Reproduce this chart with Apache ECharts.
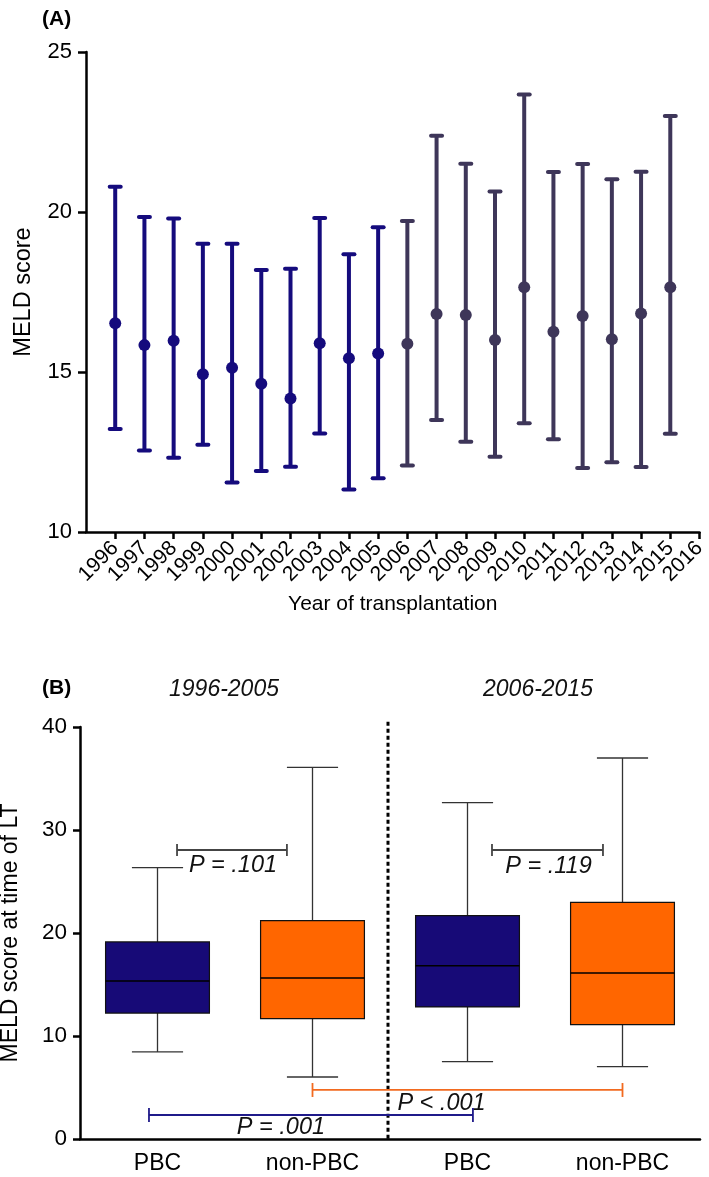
<!DOCTYPE html>
<html><head><meta charset="utf-8">
<script src="https://cdn.jsdelivr.net/npm/echarts@6/dist/echarts.min.js"></script>
<style>html,body{margin:0;padding:0;background:#fff}#c{width:709px;height:1177px}</style>
</head><body><div id="c"></div>
<script>
// ---------- Panel A data ----------
const years = ['1996','1997','1998','1999','2000','2001','2002','2003','2004','2005','2006','2007','2008','2009','2010','2011','2012','2013','2014','2015','2016'];
const meanVals = [16.52,15.84,15.98,14.93,15.13,14.63,14.17,15.90,15.43,15.58,15.88,16.81,16.78,16.00,17.65,16.26,16.75,16.02,16.83,17.65];
const lowVals  = [13.22,12.55,12.32,12.73,11.55,11.91,12.04,13.08,11.33,11.68,12.08,13.50,12.82,12.35,13.40,12.90,12.00,12.18,12.03,13.07];
const highVals = [20.79,19.84,19.80,19.01,19.01,18.19,18.23,19.81,18.68,19.52,19.72,22.38,21.51,20.64,23.67,21.25,21.50,21.02,21.26,23.00];
const yTicksA = [10, 15, 20, 25];

// ---------- Panel B data ----------
const groups = ['PBC','non-PBC','PBC','non-PBC'];
const boxMin    = [8.45, 6.02, 7.51, 7.02];
const boxQ1     = [12.23, 11.68, 12.82, 11.10];
const boxMedian = [15.34, 15.63, 16.83, 16.12];
const boxQ3     = [19.13, 21.20, 21.68, 22.98];
const boxMax    = [26.34, 36.08, 32.65, 36.99];
const periodLabels = ['1996-2005', '2006-2015'];
const pLabels = ['P = .101', 'P = .119', 'P < .001', 'P = .001'];
const pFrom   = [0, 2, 1, 0];
const pTo     = [1, 3, 3, 2];
const pLevel  = [28.06, 28.06, 4.76, 2.33];

// ---------- styling / layout (not data) ----------
const FONT = '"Liberation Sans", Arial, Helvetica, sans-serif';
const colEarly = '#150b7d', colLate = '#3e3659';
const colPBC = '#170a77', colNon = '#ff6600';
// bracket end adjustments (fraction of band) and label offsets (px)
const brStart = [0.126, 0.158, 0.0, -0.055];
const brEnd   = [-0.165, -0.126, 0.0, 0.035];
const brColor = ['#444', '#444', '#f26a1f', '#1f1a8a'];
const lblDx   = [1, 1, -26, -30];
const lblDy   = [15, 16, 13, 12];

const chart = echarts.init(document.getElementById('c'), null, {renderer: 'canvas'});

const errData = years.slice(0, meanVals.length).map((y, i) => [y, lowVals[i], meanVals[i], highVals[i]]);
const boxData = groups.map((g, i) => [i, boxMin[i], boxQ1[i], boxMedian[i], boxQ3[i], boxMax[i]]);
const cmpData = pLabels.map((l, i) => [pFrom[i], pTo[i], pLevel[i], i]);

const axisLineStyle = {color: '#000', width: 2.5};

const option = {
  animation: false,
  backgroundColor: '#fff',
  textStyle: {fontFamily: FONT},
  grid: [
    {left: 86, right: 9.5, top: 52, bottom: 645, outerBoundsMode: 'none'},
    {left: 80, right: 9, top: 727, bottom: 38, outerBoundsMode: 'none'}
  ],
  xAxis: [
    {
      type: 'category', gridIndex: 0, boundaryGap: false,
      data: [''].concat(years),
      axisLine: {lineStyle: axisLineStyle},
      axisTick: {length: 7, lineStyle: {color: '#000', width: 2.5}, interval: (i) => i > 0},
      axisLabel: {interval: 0, rotate: 45, fontSize: 21, color: '#000', margin: 13, fontFamily: FONT},
      name: 'Year of transplantation', nameLocation: 'middle', nameGap: 62,
      nameTextStyle: {fontSize: 21, color: '#000', fontFamily: FONT},
      splitLine: {show: false}
    },
    {
      type: 'category', gridIndex: 1, boundaryGap: true,
      data: groups,
      axisLine: {lineStyle: axisLineStyle},
      axisTick: {alignWithLabel: true, length: 7, lineStyle: {color: '#000', width: 2.5}},
      axisLabel: {fontSize: 23, color: '#000', margin: 13, fontFamily: FONT},
      splitLine: {show: false}
    }
  ],
  yAxis: [
    {
      type: 'value', gridIndex: 0, min: yTicksA[0], max: yTicksA[yTicksA.length - 1], interval: 5,
      axisLine: {show: true, lineStyle: axisLineStyle},
      axisTick: {show: true, length: 8, lineStyle: {color: '#000', width: 2.5}},
      axisLabel: {fontSize: 22, color: '#000', margin: 14, fontFamily: FONT},
      splitLine: {show: false},
      name: 'MELD score', nameLocation: 'middle', nameGap: 50,
      nameTextStyle: {fontSize: 23.5, color: '#000', fontFamily: FONT}
    },
    {
      type: 'value', gridIndex: 1, min: 0, max: 40, interval: 10,
      axisLine: {show: true, lineStyle: axisLineStyle},
      axisTick: {show: true, length: 7, lineStyle: {color: '#000', width: 2.5}},
      axisLabel: {fontSize: 22.5, color: '#000', margin: 13, fontFamily: FONT},
      splitLine: {show: false},
      name: 'MELD score at time of LT', nameLocation: 'middle', nameGap: 58,
      nameTextStyle: {fontSize: 23, color: '#000', fontFamily: FONT}
    }
  ],
  graphic: [
    {type: 'text', left: 42, top: 9, style: {text: '(A)', font: 'bold 21px ' + FONT, fill: '#000'}},
    {type: 'text', left: 42, top: 678, style: {text: '(B)', font: 'bold 21px ' + FONT, fill: '#000'}}
  ],
  series: [
    {
      type: 'custom', xAxisIndex: 0, yAxisIndex: 0, data: errData, clip: false,
      renderItem: function (params, api) {
        const idx = api.value(0);
        const year = parseInt(years[params.dataIndex], 10);
        const col = year < 2006 ? colEarly : colLate;
        const lo = api.coord([idx, api.value(1)]);
        const me = api.coord([idx, api.value(2)]);
        const hi = api.coord([idx, api.value(3)]);
        const cw = 5.5;
        const st = {stroke: col, lineWidth: 4, lineCap: 'round'};
        return {type: 'group', children: [
          {type: 'line', shape: {x1: lo[0], y1: lo[1], x2: hi[0], y2: hi[1]}, style: {stroke: col, lineWidth: 4}},
          {type: 'line', shape: {x1: hi[0] - cw, y1: hi[1], x2: hi[0] + cw, y2: hi[1]}, style: st},
          {type: 'line', shape: {x1: lo[0] - cw, y1: lo[1], x2: lo[0] + cw, y2: lo[1]}, style: st},
          {type: 'circle', shape: {cx: me[0], cy: me[1], r: 6}, style: {fill: col}}
        ]};
      }
    },
    {
      type: 'custom', xAxisIndex: 1, yAxisIndex: 1, data: boxData, clip: false,
      renderItem: function (params, api) {
        const idx = api.value(0);
        const band = api.size([1, 0])[0];
        const c = api.coord([idx, 0])[0];
        const y = (k) => api.coord([idx, api.value(k)])[1];
        const yMin = y(1), yQ1 = y(2), yMed = y(3), yQ3 = y(4), yMax = y(5);
        const hw = band * 0.335, cw = band * 0.165;
        const fill = idx % 2 === 0 ? colPBC : colNon;
        const wl = {stroke: '#333', lineWidth: 1.3};
        return {type: 'group', children: [
          {type: 'line', shape: {x1: c, y1: yQ3, x2: c, y2: yMax}, style: wl},
          {type: 'line', shape: {x1: c - cw, y1: yMax, x2: c + cw, y2: yMax}, style: wl},
          {type: 'line', shape: {x1: c, y1: yQ1, x2: c, y2: yMin}, style: wl},
          {type: 'line', shape: {x1: c - cw, y1: yMin, x2: c + cw, y2: yMin}, style: wl},
          {type: 'rect', shape: {x: c - hw, y: yQ3, width: 2 * hw, height: yQ1 - yQ3}, style: {fill: fill, stroke: '#111', lineWidth: 1.2}},
          {type: 'line', shape: {x1: c - hw, y1: yMed, x2: c + hw, y2: yMed}, style: {stroke: '#000', lineWidth: 1.5}}
        ]};
      }
    },
    {
      type: 'custom', xAxisIndex: 1, yAxisIndex: 1, data: [[1, 2]], clip: false, z: 5,
      renderItem: function (params, api) {
        const a = api.coord([api.value(0), 0]);
        const b = api.coord([api.value(1), 0]);
        const x = (a[0] + b[0]) / 2 - 2;
        const top = api.coord([api.value(0), 40.5])[1];
        const band = api.size([1, 0])[0];
        const children = [
          {type: 'line', shape: {x1: x, y1: top, x2: x, y2: a[1]}, style: {stroke: '#000', lineWidth: 3, lineDash: [4, 3]}}
        ];
        const hy = api.coord([0, 43.6])[1];
        const c0 = api.coord([0, 0])[0], c2 = api.coord([2, 0])[0];
        children.push({type: 'text', x: c0 + band * 0.5 - 11, y: hy, style: {text: periodLabels[0], font: 'italic 23px ' + FONT, fill: '#111', align: 'center', verticalAlign: 'middle'}});
        children.push({type: 'text', x: c2 + band * 0.5 - 7, y: hy, style: {text: periodLabels[1], font: 'italic 23px ' + FONT, fill: '#111', align: 'center', verticalAlign: 'middle'}});
        return {type: 'group', children: children};
      }
    },
    {
      type: 'custom', xAxisIndex: 1, yAxisIndex: 1, data: cmpData, clip: false, z: 6,
      renderItem: function (params, api) {
        const i = api.value(3);
        const band = api.size([1, 0])[0];
        const p1 = api.coord([api.value(0), api.value(2)]);
        const p2 = api.coord([api.value(1), api.value(2)]);
        const x1 = p1[0] + brStart[i] * band, x2 = p2[0] + brEnd[i] * band, yy = p1[1];
        const col = brColor[i];
        const h = i < 2 ? 6 : 7;
        const st = {stroke: col, lineWidth: 1.8};
        return {type: 'group', children: [
          {type: 'line', shape: {x1: x1, y1: yy, x2: x2, y2: yy}, style: st},
          {type: 'line', shape: {x1: x1, y1: yy - h, x2: x1, y2: yy + h}, style: st},
          {type: 'line', shape: {x1: x2, y1: yy - h, x2: x2, y2: yy + h}, style: st},
          {type: 'text', x: (x1 + x2) / 2 + lblDx[i], y: yy + lblDy[i], style: {text: pLabels[i], font: 'italic 23.5px ' + FONT, fill: '#111', align: 'center', verticalAlign: 'middle'}}
        ]};
      }
    }
  ]
};
chart.setOption(option);
</script>
</body></html>
